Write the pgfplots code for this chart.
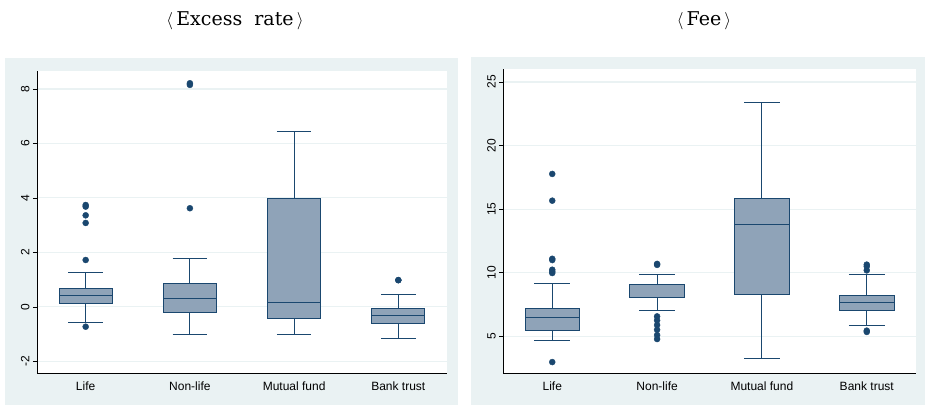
\documentclass[border=0pt]{standalone}
\usepackage{fontspec}
\setmainfont{Liberation Sans}
\newfontfamily\titlefont{DejaVu Serif}
\usepackage{pgfplots}
\pgfplotsset{compat=1.18}
\usepgfplotslibrary{statistics}
\definecolor{bgc}{RGB}{234,242,243}
\definecolor{boxfill}{RGB}{143,163,184}
\definecolor{navy}{RGB}{26,71,111}
\pgfplotsset{
 panel/.style={
  scale only axis,
  axis x line*=bottom, axis y line*=left,
  axis line style={black, line width=0.9pt, -},
  axis background/.style={fill=white},
  xmin=0.533, xmax=4.467,
  xtick={1,2,3,4}, xticklabels={Life,Non-life,Mutual fund,Bank trust},
  x tick style={draw=none},
  y tick style={black, line width=0.6pt},
  major tick length=4pt, tick align=outside,
  ymajorgrids, grid style={bgc, line width=1.2pt},
  yticklabel style={rotate=90, anchor=south, font=\fontsize{12}{14}\selectfont},
  xticklabel style={font=\fontsize{12}{14}\selectfont, yshift=-1pt},
  /pgf/number format/assume math mode=true,
  boxplot/draw direction=y,
  boxplot/every box/.style={draw=navy, fill=boxfill, line width=1pt},
  boxplot/every whisker/.style={navy, line width=1pt},
  boxplot/every median/.style={navy, line width=1pt},
 },
 bp/.style={navy, mark=*, mark size=3pt, mark options={fill=navy, draw=navy}},
}
\begin{document}
\begin{tikzpicture}
\useasboundingbox (0,0) rectangle (925pt,405pt);
\fill[bgc] (5pt,0) rectangle (458pt,347pt);
\fill[bgc] (471pt,0) rectangle (925pt,348pt);
\node[font=\titlefont\fontsize{19}{22}\selectfont] at (235pt,384pt) {\(\langle\)\,Excess\ \ rate\,\(\rangle\)};
\node[font=\titlefont\fontsize{19}{22}\selectfont] at (704pt,384pt) {\(\langle\)\,Fee\,\(\rangle\)};
\begin{axis}[panel, at={(37pt,32pt)}, anchor=south west, width=410pt, height=302pt,
  ymin=-2.43, ymax=8.66, ytick={-2,0,2,4,6,8}]
\addplot[bp, boxplot prepared={draw position=1, lower whisker=-0.59, lower quartile=0.12, median=0.43, upper quartile=0.685, upper whisker=1.27, box extend=0.51, whisker extend=0.33}]
  table[row sep=\\, y index=0] {3.74\\ 3.68\\ 3.36\\ 3.08\\ 1.72\\ -0.73\\};
\addplot[bp, boxplot prepared={draw position=2, lower whisker=-1.03, lower quartile=-0.20, median=0.29, upper quartile=0.87, upper whisker=1.79, box extend=0.51, whisker extend=0.33}]
  table[row sep=\\, y index=0] {8.21\\ 8.15\\ 3.62\\};
\addplot[bp, boxplot prepared={draw position=3, lower whisker=-1.03, lower quartile=-0.44, median=0.16, upper quartile=3.99, upper whisker=6.42, box extend=0.51, whisker extend=0.33}]
  coordinates {};
\addplot[bp, boxplot prepared={draw position=4, lower whisker=-1.16, lower quartile=-0.60, median=-0.32, upper quartile=-0.06, upper whisker=0.46, box extend=0.51, whisker extend=0.33}]
  table[row sep=\\, y index=0] {0.98\\ 0.98\\};
\end{axis}
\begin{axis}[panel, at={(503.3pt,32pt)}, anchor=south west, width=412.4pt, height=304pt,
  ymin=2.12, ymax=26.02, ytick={5,10,15,20,25}]
\addplot[bp, boxplot prepared={draw position=1, lower whisker=4.71, lower quartile=5.47, median=6.5, upper quartile=7.18, upper whisker=9.17, box extend=0.52, whisker extend=0.34}]
  table[row sep=\\, y index=0] {17.77\\ 15.67\\ 11.1\\ 11.0\\ 10.24\\ 10.1\\ 9.98\\ 2.98\\};
\addplot[bp, boxplot prepared={draw position=2, lower whisker=7.07, lower quartile=8.09, median=9.05, upper quartile=9.1, upper whisker=9.85, box extend=0.52, whisker extend=0.34}]
  table[row sep=\\, y index=0] {10.7\\ 10.62\\ 6.57\\ 6.26\\ 5.89\\ 5.52\\ 5.1\\ 4.79\\};
\addplot[bp, boxplot prepared={draw position=3, lower whisker=3.27, lower quartile=8.33, median=13.83, upper quartile=15.8, upper whisker=23.4, box extend=0.52, whisker extend=0.34}]
  coordinates {};
\addplot[bp, boxplot prepared={draw position=4, lower whisker=5.84, lower quartile=7.07, median=7.67, upper quartile=8.22, upper whisker=9.85, box extend=0.52, whisker extend=0.34}]
  table[row sep=\\, y index=0] {10.64\\ 10.5\\ 10.19\\ 5.45\\ 5.35\\};
\end{axis}
\end{tikzpicture}
\end{document}
